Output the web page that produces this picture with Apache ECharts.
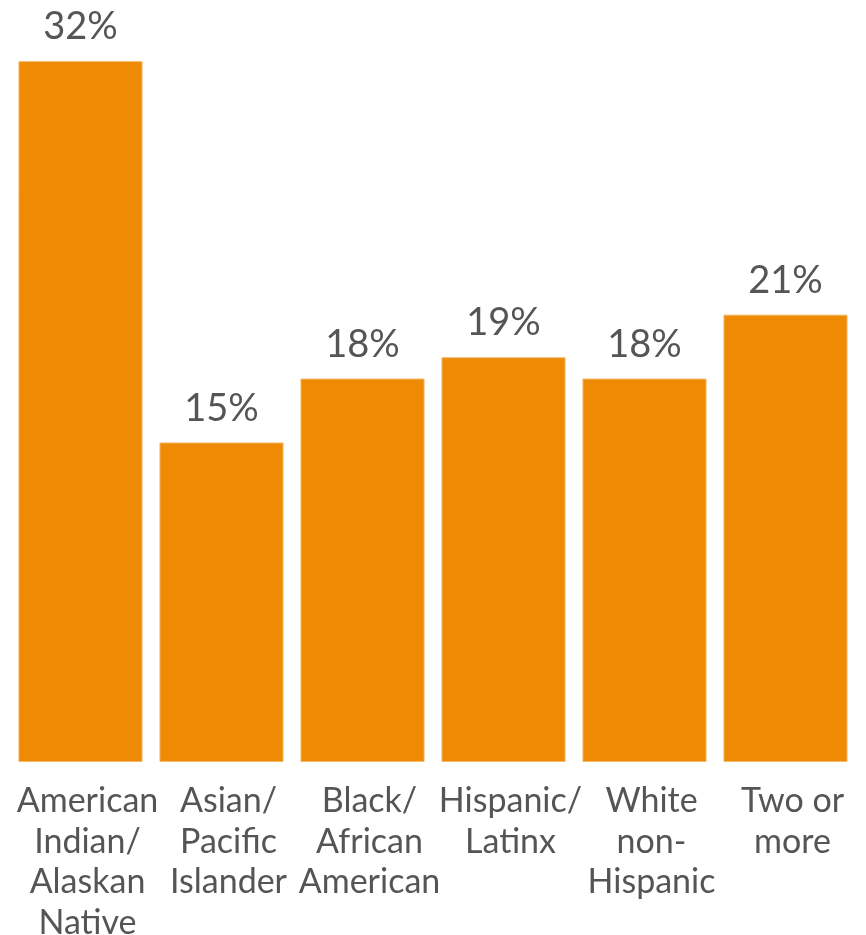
<!DOCTYPE html>
<html>
<head>
<meta charset="utf-8">
<script src="https://cdn.jsdelivr.net/npm/echarts@6/dist/echarts.min.js"></script>
<style>
  html, body { margin: 0; padding: 0; background: #fff; }
  #chart { width: 866px; height: 935px; }
</style>
</head>
<body>
<div id="chart"></div>
<script>
// data
const categories = [
  'American\nIndian/\nAlaskan\nNative',
  'Asian/\nPacific\nIslander',
  'Black/\nAfrican\nAmerican',
  'Hispanic/\nLatinx',
  'White\nnon-\nHispanic',
  'Two or\nmore'
];
const values = [32.9, 15, 18, 19, 18, 21];
const valueLabels = ['32%', '15%', '18%', '19%', '18%', '21%'];

const myChart = echarts.init(document.getElementById('chart'));
myChart.setOption({
  animation: false,
  grid: {
    left: 10, right: 10, top: 59, bottom: 173,
    containLabel: false,
    outerBoundsMode: 'none'
  },
  xAxis: {
    type: 'category',
    data: categories,
    axisLine: { show: false },
    axisTick: { show: false },
    axisLabel: {
      interval: 0,
      margin: 19,
      color: '#555555',
      fontFamily: 'Lato',
      fontSize: 34,
      lineHeight: 40.6,
      padding: [0, 0, 0, 14] // labels sit a bit right of bar centres
    }
  },
  yAxis: {
    type: 'value',
    min: 0,
    max: 33,
    show: false,
    splitLine: { show: false }
  },
  series: [
    {
      type: 'bar',
      data: values,
      barCategoryGap: '12%',
      itemStyle: {
        color: '#EE8A03',
        borderColor: '#F3B868',
        borderWidth: 1
      },
      label: {
        show: true,
        position: 'top',
        distance: 15,
        color: '#555555',
        fontFamily: 'Lato',
        fontSize: 38,
        formatter: function (p) {
          return valueLabels[p.dataIndex];
        }
      }
    }
  ]
});
</script>
</body>
</html>
